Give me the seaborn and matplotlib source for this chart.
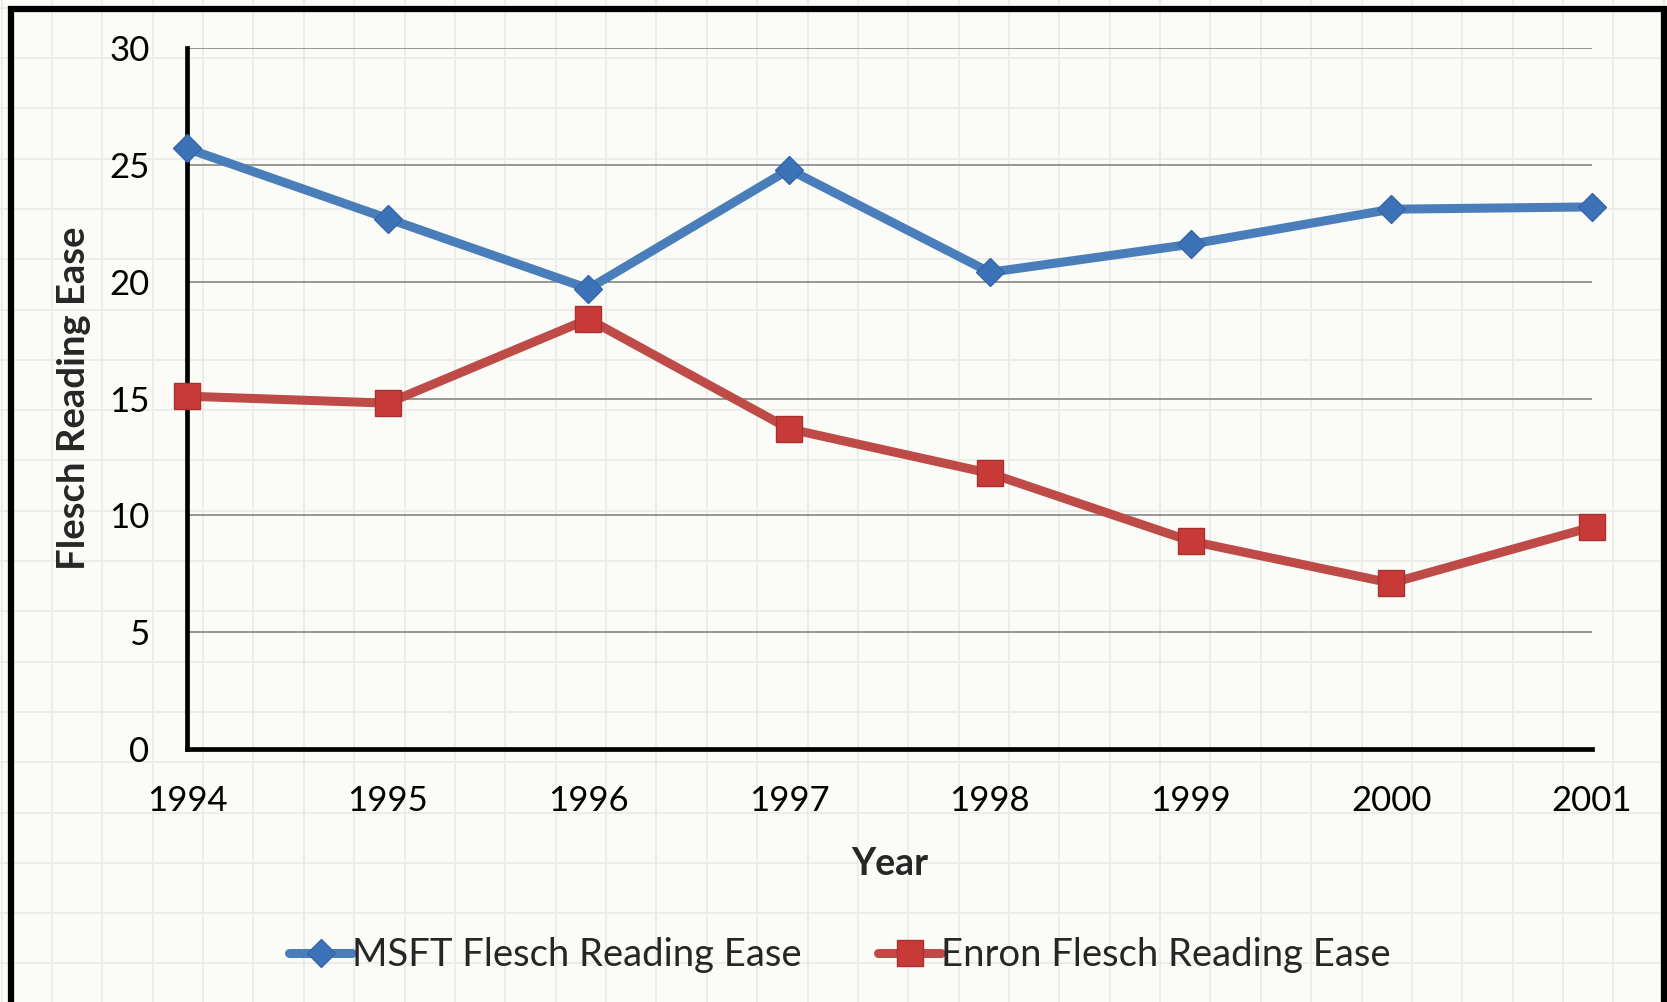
import numpy as np
import pandas as pd
import matplotlib
matplotlib.use("Agg")
import matplotlib.pyplot as plt
import seaborn as sns
from matplotlib.patches import Rectangle

# === Data ===
years = [1994, 1995, 1996, 1997, 1998, 1999, 2000, 2001]
msft_fre = [25.7, 22.7, 19.7, 24.8, 20.4, 21.6, 23.1, 23.2]
enron_fre = [15.1, 14.8, 18.4, 13.7, 11.8, 8.9, 7.1, 9.5]
msft_label = "MSFT Flesch Reading Ease"
enron_label = "Enron Flesch Reading Ease"
y_ticks = [0, 5, 10, 15, 20, 25, 30]

df = pd.DataFrame({
    "Year": years * 2,
    "FRE": msft_fre + enron_fre,
    "series": [msft_label] * len(years) + [enron_label] * len(years),
})

sns.set_theme(style="white")
plt.rcParams["font.family"] = ["Lato", "DejaVu Sans"]

W, H = 1667, 1002
fig = plt.figure(figsize=(W / 100, H / 100), dpi=100)
bg_color = "#FBFCF8"
fig.patch.set_facecolor(bg_color)

# === Faint sheet grid in the background ===
ax_bg = fig.add_axes([0, 0, 1, 1], zorder=0)
ax_bg.set_xlim(0, W)
ax_bg.set_ylim(H, 0)
ax_bg.set_facecolor(bg_color)
ax_bg.set_xticks(np.arange(1.6, W, 50.37))
ax_bg.set_yticks(np.arange(7.7, H, 50.3))
ax_bg.grid(True, color="#EBECE8", linewidth=1.3)
ax_bg.tick_params(length=0, labelleft=False, labelbottom=False)
for s in ax_bg.spines.values():
    s.set_visible(False)

# chart frame (left, top, right; bottom is cut off)
fig.patches.append(Rectangle((11 / W, -0.1), 1653 / W, 1.1 - 9 / H,
                             transform=fig.transFigure, fill=False,
                             edgecolor="black", linewidth=4.5, zorder=1))

# === Main chart ===
ax = fig.add_axes([187 / W, 1 - 749 / H, 1405 / W, 701 / H], zorder=2)
ax.patch.set_alpha(0)

styles = {
    msft_label: dict(color="#4A7EBB", marker="D", ms=14, mfc="#3C72B8", mec="#3566A6"),
    enron_label: dict(color="#BE4B48", marker="s", ms=19, mfc="#C83A38", mec="#A8302E"),
}
for name in [msft_label, enron_label]:
    st = styles[name]
    sub = df[df["series"] == name]
    sns.lineplot(data=sub, x="Year", y="FRE", ax=ax, color=st["color"], linewidth=6.5,
                 marker=st["marker"], markersize=st["ms"], markerfacecolor=st["mfc"],
                 markeredgecolor=st["mec"], markeredgewidth=1, label=name,
                 clip_on=False, solid_capstyle="round", zorder=3)

ax.set_xlim(years[0], years[-1])
ax.set_ylim(0, 30)
ax.set_xticks(years)
ax.set_yticks(y_ticks)
ax.yaxis.grid(True, color="#868686", linewidth=1.2)
ax.xaxis.grid(False)
for side in ["top", "right"]:
    ax.spines[side].set_visible(False)
for side in ["left", "bottom"]:
    ax.spines[side].set_color("black")
    ax.spines[side].set_linewidth(3.4)
ax.tick_params(axis="both", direction="out", length=9, width=3.4, color="black",
               labelsize=25, labelcolor="black")
ax.tick_params(axis="y", pad=18)
ax.tick_params(axis="x", pad=17)

ax.set_xlabel("Year", fontsize=27, fontweight="bold")
ax.set_ylabel("Flesch Reading Ease", fontsize=27.5, fontweight="bold")
ax.xaxis.set_label_coords(0.5, -0.14)
ax.yaxis.set_label_coords(-0.068, 0.5)

handles, labels = ax.get_legend_handles_labels()
ax.get_legend().remove()
fig.legend(handles, labels, loc="center", bbox_to_anchor=(0.504, 1 - 955 / H), ncol=2,
           frameon=False, fontsize=27.5, handlelength=1.65, handletextpad=0.0,
           columnspacing=2.0)

fig.savefig("out.png", dpi=100, facecolor=bg_color)
